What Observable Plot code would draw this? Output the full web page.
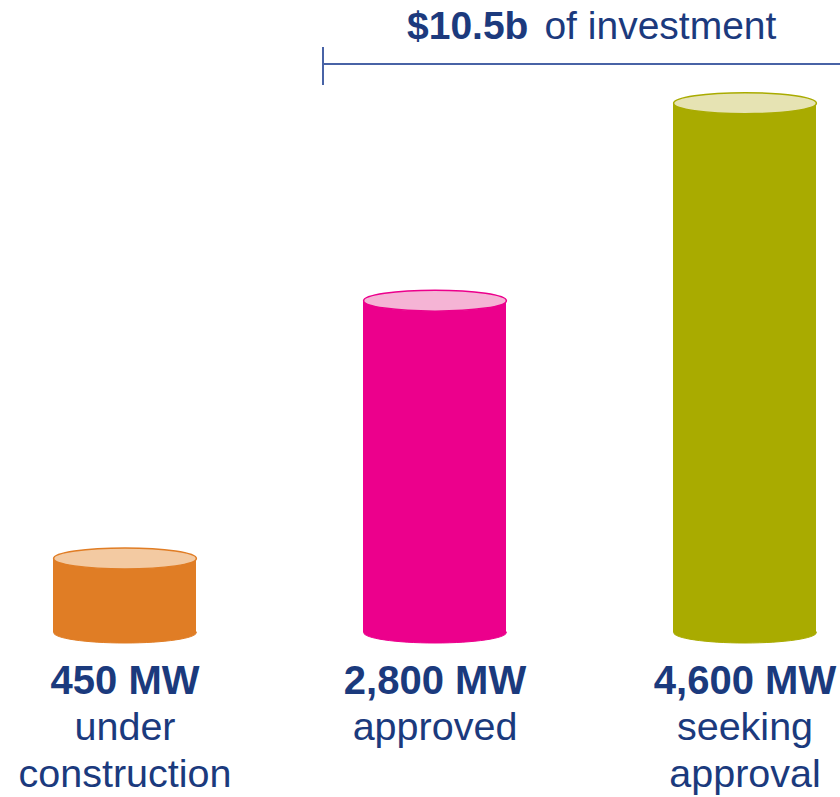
<!DOCTYPE html>
<html><head><meta charset="utf-8">
<script src="https://cdn.jsdelivr.net/npm/d3@7"></script>
<script src="https://cdn.jsdelivr.net/npm/@observablehq/plot@0.6"></script>
<style>
body{margin:0;background:#fff;font-family:"Liberation Sans",Arial,sans-serif;}
#wrap{width:840px;overflow:hidden;}
#header{position:relative;height:90px;}
#title{position:absolute;left:407px;top:6px;font-size:39px;line-height:39px;color:#1c3a7d;white-space:nowrap;}
#title b{margin-right:16px;}
#bracket{position:absolute;left:323px;top:63px;width:517px;height:0;border-top:2px solid #4863a6;}
#tick{position:absolute;left:322px;top:47px;width:2px;height:38px;background:#4863a6;}
</style></head>
<body><div id="wrap"><div id="header"><div id="tick"></div><div id="bracket"></div><div id="title"></div></div><div id="chart"></div></div>
<script>
const categories = ["under construction", "approved", "seeking approval"];
const capacityMW = [450, 2800, 4600];
const valueLabels = ["450 MW", "2,800 MW", "4,600 MW"];
const statusLabels = ["under\nconstruction", "approved", "seeking\napproval"];
const bodyColors = ["#e07d25", "#ec008c", "#a9ab00"];
const topColors = ["#f3caa2", "#f5b4d5", "#e6e3b3"];
const investmentTitle = ["$10.5b", "of investment"];

const textColor = "#1b3a7d";
const baseValue = -225;

document.getElementById("title").innerHTML =
  `<b>${investmentTitle[0]}</b>${investmentTitle[1]}`;

const data = categories.map((c, i) => ({
  category: c, value: capacityMW[i], valueLabel: valueLabels[i],
  status: statusLabels[i], body: bodyColors[i], top: topColors[i]
}));

const xOpts = {type: "band", domain: categories, range: [0, 869], paddingInner: 0.54, paddingOuter: 0.17, axis: null};
const yOpts = {type: "linear", domain: [baseValue, 4600], range: [542, 12.7], axis: null};
const xs = Plot.scale({x: xOpts});
const rx = xs.bandwidth / 2;

const ellipse = {
  draw(context, size) {
    const a = Math.sqrt(size / Math.PI), b = a * 0.147, k = 0.5523;
    context.moveTo(a, 0);
    context.bezierCurveTo(a, b * k, a * k, b, 0, b);
    context.bezierCurveTo(-a * k, b, -a, b * k, -a, 0);
    context.bezierCurveTo(-a, -b * k, -a * k, -b, 0, -b);
    context.bezierCurveTo(a * k, -b, a, -b * k, a, 0);
    context.closePath();
  }
};

const chart = Plot.plot({
  width: 840, height: 707,
  marginTop: 0, marginBottom: 0, marginLeft: 0, marginRight: 0,
  x: xOpts, y: yOpts,
  color: {type: "identity"},
  style: {fontFamily: "'Liberation Sans', Arial, sans-serif", background: "#fff"},
  marks: [
    Plot.dot(data, {x: "category", y: baseValue, r: rx, symbol: ellipse, fill: "body", stroke: "body", strokeWidth: 1}),
    Plot.barY(data, {x: "category", y1: baseValue, y2: "value", fill: "body"}),
    Plot.dot(data, {x: "category", y: "value", r: rx, symbol: ellipse, fill: "top", stroke: "body", strokeWidth: 1.5}),
    Plot.text(data, {x: "category", y: baseValue, text: "valueLabel", fontWeight: "bold", fontSize: 40, fill: textColor, lineAnchor: "top", dy: 32.6}),
    Plot.text(data, {x: "category", y: baseValue, text: "status", fontSize: 39.5, fill: textColor, lineAnchor: "top", lineHeight: 1.19, dy: 74.6})
  ]
});
document.getElementById("chart").appendChild(chart);
</script>
</body></html>
